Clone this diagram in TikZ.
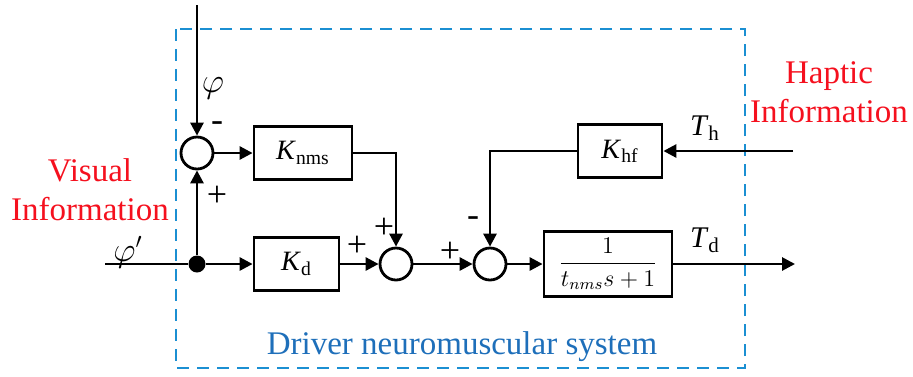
\documentclass[tikz,border=0pt]{standalone}
\usepackage{amsmath}
\usepackage{fontspec}
\setmainfont{Liberation Serif}
\usetikzlibrary{
  arrows.meta,
  positioning,
  calc
}
\definecolor{dnRed}{HTML}{F5101E}
\definecolor{dnBlue}{HTML}{1E6FBA}
\definecolor{dnDash}{HTML}{1B8FD2}
\tikzset{
  blk/.style={
    draw, line width=1.4pt, inner sep=0pt, minimum height=26.5pt,
    font=\fontsize{14}{16}\selectfont
  },
  sumj/.style={draw, circle, line width=1.4pt, minimum size=16pt, inner sep=0pt},
  brdot/.style={fill, circle, minimum size=8.5pt, inner sep=0pt},
  sig/.style={-{Triangle[length=6.5pt, width=6.5pt]}, line width=1.4pt},
  wire/.style={line width=1.4pt},
  sgn/.style={font=\fontsize{18}{20}\selectfont, inner sep=0pt},
  sym/.style={font=\fontsize{15}{17}\selectfont, inner sep=0pt},
  info/.style={text=dnRed, font=\fontsize{16.5}{19.5}\selectfont, align=center, inner sep=0pt},
  frame/.style={draw=dnDash, dash pattern=on 6pt off 4pt, line width=1.3pt}
}
\begin{document}
\begin{tikzpicture}[x=0.5pt, y=-0.5pt]
  \useasboundingbox (0,0) rectangle (913,376);
  % frame of the driver model
  \draw[frame] (176,29) rectangle (745,368);
  \node[text=dnBlue, font=\fontsize{16.5}{20}\selectfont] (sysLbl) at (462,347) {Driver neuromuscular system};

  % blocks
  \node[sumj] (sum1) at (197,153) {};
  \node[brdot] (br) at (197,264) {};
  \node[blk, minimum width=49pt] (knms) at (303,153) {\textit{K}\textsubscript{nms}};
  \node[blk, minimum width=42.5pt] (kd) at (296.5,264) {\textit{K}\textsubscript{d}};
  \node[sumj] (sum2) at (396,264) {};
  \node[sumj] (sum3) at (490,264) {};
  \node[blk, minimum width=42pt] (khf) at (620,151) {\textit{K}\textsubscript{hf}};
  \node[blk, minimum width=64pt, minimum height=32.5pt, font=\fontsize{12}{14}\selectfont] (tf) at (608,264)
    {$\dfrac{1}{t_{nms}s+1}$};

  % in and out
  \coordinate (phiTop) at (197,5);
  \coordinate (phiIn) at (105,264);
  \coordinate (thIn) at (793,151);
  \coordinate (tdOut) at (795,264);

  % signals
  \draw[sig] (phiTop) -- (sum1.north);
  \draw[wire] (phiIn) -- (br);
  \draw[sig] (br) -- (sum1.south);
  \draw[sig] (br) -- (kd.west);
  \draw[sig] (sum1.east) -- (knms.west);
  \draw[sig] (knms.east) -| (sum2.north);
  \draw[sig] (kd.east) -- (sum2.west);
  \draw[sig] (sum2.east) -- (sum3.west);
  \draw[sig] (thIn) -- (khf.east);
  \draw[sig] (khf.west) -| (sum3.north);
  \draw[sig] (sum3.east) -- (tf.west);
  \draw[sig] (tf.east) -- (tdOut);

  % signs and symbols
  \node[sym, font=\fontsize{17}{19}\selectfont] (phiLbl) at (213,88) {$\varphi$};
  \node[sym, font=\fontsize{16}{18}\selectfont] (phiDLbl) at (128,252) {$\varphi'$};
  \node[sgn] (m1) at (217,127) {-};
  \node[sgn] (p1) at (217,196) {+};
  \node[sgn] (p2) at (357,246) {+};
  \node[sgn] (p3) at (384,228) {+};
  \node[sgn] (p4) at (450,252) {+};
  \node[sgn] (m2) at (473,222) {-};
  \node[sym] (thLbl) at (705,128) {\textit{T}\textsubscript{h}};
  \node[sym] (tdLbl) at (705,240) {\textit{T}\textsubscript{d}};

  \node[info] (visLbl) at (90,190) {Visual\\Information};
  \node[info] (hapLbl) at (829,92) {Haptic\\Information};
\end{tikzpicture}
\end{document}
